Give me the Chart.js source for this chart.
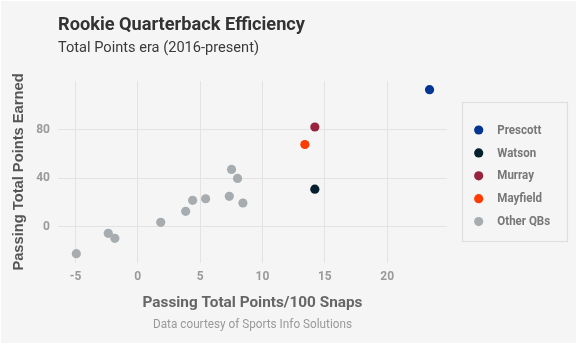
<!DOCTYPE html>
<html><head><meta charset="utf-8">
<script src="https://cdn.jsdelivr.net/npm/chart.js@4/dist/chart.umd.min.js"></script>
<style>html,body{margin:0;padding:0;background:#fff;overflow:hidden}#wrap{width:577px;height:344px}</style>
</head><body><div id="wrap"><canvas id="c" width="577" height="344"></canvas></div>
<script>
// ---- data ----
const seriesNames = ["Prescott", "Watson", "Murray", "Mayfield", "Other QBs"];
const seriesColors = ["#003594", "#06202e", "#97233f", "#ff3c00", "#a6acaf"];
const prescottX = [23.4],  prescottY = [112.9];
const watsonX   = [14.2],  watsonY   = [31.1];
const murrayX   = [14.2],  murrayY   = [82.2];
const mayfieldX = [13.4],  mayfieldY = [67.8];
const otherX = [-4.93, -2.37, -1.84, 1.84, 3.84, 4.4, 5.44, 7.52, 8.0, 7.34, 8.43];
const otherY = [-21.9, -5.2, -9.3, 3.8, 12.9, 21.9, 23.2, 47.3, 39.9, 25.2, 19.7];
const xTickValues = [-5, 0, 5, 10, 15, 20];
const yTickValues = [0, 40, 80];
const chartTitle = "Rookie Quarterback Efficiency";
const chartSubtitle = "Total Points era (2016-present)";
const xAxisTitle = "Passing Total Points/100 Snaps";
const yAxisTitle = "Passing Total Points Earned";
const captionText = "Data courtesy of Sports Info Solutions";

const seriesX = [prescottX, watsonX, murrayX, mayfieldX, otherX];
const seriesY = [prescottY, watsonY, murrayY, mayfieldY, otherY];
const datasets = seriesNames.map((name, i) => ({
  label: name,
  data: seriesX[i].map((x, j) => ({x: x, y: seriesY[i][j]})),
  backgroundColor: seriesColors[i],
  borderColor: seriesColors[i],
  borderWidth: 0,
  pointRadius: 4.6,
  pointHoverRadius: 4.6
}));

function fitText(ctx, text, x, y, font, color, width, align, rot) {
  ctx.save();
  ctx.font = font; ctx.fillStyle = color;
  ctx.textAlign = 'left'; ctx.textBaseline = 'alphabetic';
  const w = ctx.measureText(text).width;
  const s = width ? width / w : 1;
  const tw = w * s;
  ctx.translate(x, y);
  if (rot) ctx.rotate(rot);
  const start = align === 'center' ? -tw / 2 : 0;
  ctx.translate(start, 0);
  ctx.scale(s, 1);
  ctx.fillText(text, 0, 0);
  ctx.restore();
}

const decor = {
  id: 'decor',
  beforeDraw(chart) {
    const ctx = chart.ctx;
    ctx.save();
    ctx.fillStyle = '#ffffff';
    ctx.fillRect(0, 0, chart.width, chart.height);
    ctx.fillStyle = '#f5f5f5';
    ctx.fillRect(1, 1, chart.width - 2, chart.height - 2);
    ctx.restore();
  },
  afterDraw(chart) {
    const ctx = chart.ctx;
    const ca = chart.chartArea;
    const cx = (ca.left + ca.right) / 2;
    fitText(ctx, chartTitle, 58, 30, 'bold 18px Roboto', '#333333', 247);
    fitText(ctx, chartSubtitle, 58, 52, '15px Roboto', '#3a3a3a', 201);
    fitText(ctx, xAxisTitle, cx, 307, 'bold 15.5px Roboto', '#666666', 220, 'center');
    fitText(ctx, captionText, cx, 328, '12.5px Roboto', '#999999', 199, 'center');
    fitText(ctx, yAxisTitle, 23, (ca.top + ca.bottom) / 2, 'bold 14.7px "Liberation Sans"', '#555555', 0, 'center', -Math.PI / 2);
    // legend
    ctx.save();
    ctx.strokeStyle = '#dedede'; ctx.lineWidth = 1.2;
    ctx.strokeRect(462.5, 102.5, 105, 139);
    ctx.font = 'bold 12.5px Roboto';
    const sc = 44 / ctx.measureText(seriesNames[0]).width;
    chart.data.datasets.forEach((ds, i) => {
      const y = 130 + i * 22.9;
      ctx.beginPath();
      ctx.fillStyle = ds.backgroundColor;
      ctx.arc(478.7, y, 4.6, 0, Math.PI * 2);
      ctx.fill();
      ctx.save();
      ctx.fillStyle = '#777777';
      ctx.textBaseline = 'middle'; ctx.textAlign = 'left';
      ctx.translate(497.3, y + 0.5);
      ctx.scale(sc, 1);
      ctx.fillText(ds.label, 0, 0);
      ctx.restore();
    });
    ctx.restore();
  }
};

const tickFont = {family: 'Roboto', size: 12, weight: 'bold'};
new Chart(document.getElementById('c'), {
  type: 'scatter',
  data: {datasets: datasets},
  options: {
    responsive: false, animation: false, devicePixelRatio: 1,
    events: [],
    layout: {padding: {top: 81, right: 130, bottom: 0, left: 0}},
    plugins: {legend: {display: false}, title: {display: false}, tooltip: {enabled: false}},
    scales: {
      x: {
        type: 'linear', min: -6.4, max: 24.8,
        border: {display: false},
        grid: {color: '#e3e3e3', drawTicks: false, lineWidth: 1},
        ticks: {color: '#9a9a9a', font: tickFont, padding: 6.5, includeBounds: false},
        afterBuildTicks: s => { s.ticks = xTickValues.map(v => ({value: v})); },
        afterFit: s => { s.height = 81; }
      },
      y: {
        type: 'linear', min: -29.6, max: 120,
        border: {display: false},
        grid: {color: '#e3e3e3', drawTicks: false, lineWidth: 1},
        ticks: {color: '#9a9a9a', font: tickFont, padding: 8, includeBounds: false},
        afterBuildTicks: s => { s.ticks = yTickValues.map(v => ({value: v})); },
        afterFit: s => { s.width = 58; }
      }
    }
  },
  plugins: [decor]
});
</script></body></html>
